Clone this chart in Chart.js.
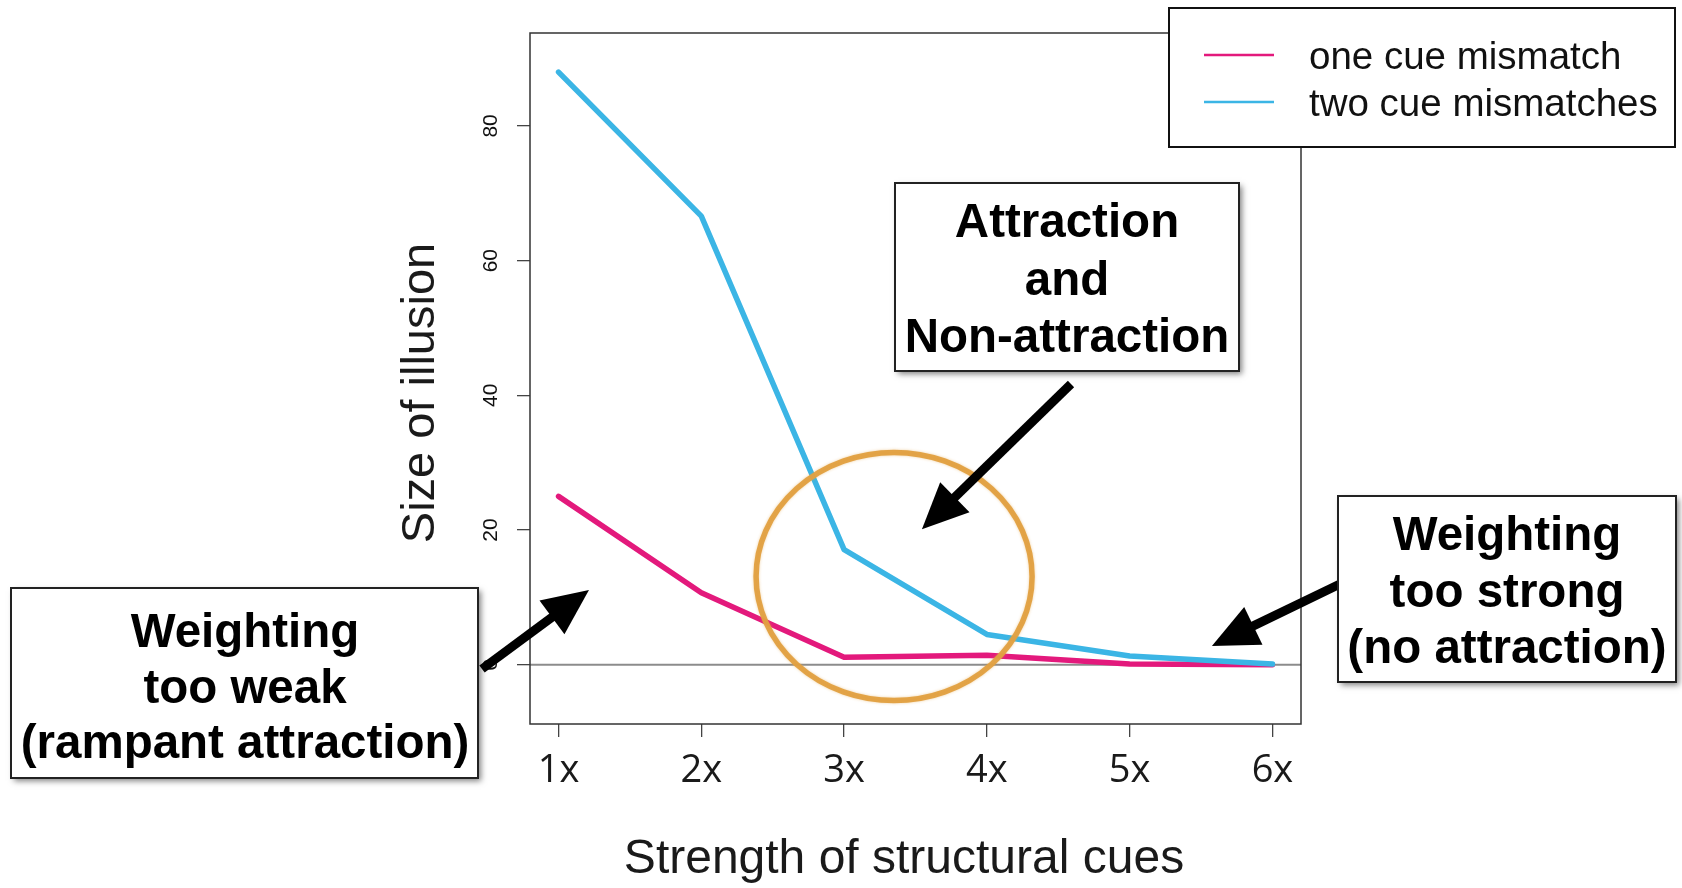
<!DOCTYPE html>
<html><head><meta charset="utf-8">
<script src="https://cdn.jsdelivr.net/npm/chart.js@4.4.1/dist/chart.umd.min.js"></script>
<style>html,body{margin:0;padding:0;background:#fff;}#wrap{width:1682px;height:888px;position:relative;}canvas{display:block;}</style>
</head><body><div id="wrap"><canvas id="c" width="1682" height="888"></canvas></div>
<script>
// ---- data ----
const categories = [1, 2, 3, 4, 5, 6];
const xTickLabels = ['1x', '2x', '3x', '4x', '5x', '6x'];
const yTickValues = [0, 20, 40, 60, 80];
const seriesNames = ['one cue mismatch', 'two cue mismatches'];
const oneCueMismatch = [25, 10.7, 1.1, 1.4, 0.1, 0];
const twoCueMismatches = [88, 66.6, 17.1, 4.5, 1.3, 0.1];
const seriesColors = ['#e3197c', '#3bb5e5'];
const xTitle = 'Strength of structural cues';
const yTitle = 'Size of illusion';
const annotationTexts = [
  ['Attraction', 'and', 'Non-attraction'],
  ['Weighting', 'too weak', '(rampant attraction)'],
  ['Weighting', 'too strong', '(no attraction)']
];

const SANS = "'Liberation Sans', Arial, Helvetica, sans-serif";

function drawArrow(ctx, x1, y1, x2, y2) {
  const ang = Math.atan2(y2 - y1, x2 - x1);
  const headLen = 46, headW = 21;
  const bx = x2 - headLen * Math.cos(ang), by = y2 - headLen * Math.sin(ang);
  ctx.save();
  ctx.strokeStyle = '#000'; ctx.fillStyle = '#000';
  ctx.lineWidth = 9; ctx.lineCap = 'butt';
  ctx.beginPath(); ctx.moveTo(x1, y1); ctx.lineTo(bx + 4 * Math.cos(ang), by + 4 * Math.sin(ang)); ctx.stroke();
  ctx.beginPath();
  ctx.moveTo(x2, y2);
  ctx.lineTo(bx + headW * Math.sin(ang), by - headW * Math.cos(ang));
  ctx.lineTo(bx - headW * Math.sin(ang), by + headW * Math.cos(ang));
  ctx.closePath(); ctx.fill();
  ctx.restore();
}

function drawBox(ctx, x, y, w, h, lines, cx, lineYs) {
  ctx.save();
  ctx.shadowColor = 'rgba(0,0,0,0.5)'; ctx.shadowBlur = 6; ctx.shadowOffsetX = 3; ctx.shadowOffsetY = 3;
  ctx.fillStyle = '#fff'; ctx.fillRect(x, y, w, h);
  ctx.restore();
  ctx.save();
  ctx.strokeStyle = '#222'; ctx.lineWidth = 2; ctx.strokeRect(x, y, w, h);
  ctx.fillStyle = '#000'; ctx.font = 'bold 47.5px ' + SANS;
  ctx.textAlign = 'center'; ctx.textBaseline = 'middle';
  lines.forEach((t, i) => ctx.fillText(t, cx, lineYs[i]));
  ctx.restore();
}

const decor = {
  id: 'decor',
  beforeDatasetsDraw(chart) {
    const ctx = chart.ctx, a = chart.chartArea, ys = chart.scales.y;
    const y0 = ys.getPixelForValue(0);
    ctx.save(); ctx.strokeStyle = '#8c8c8c'; ctx.lineWidth = 2;
    ctx.beginPath(); ctx.moveTo(a.left, y0); ctx.lineTo(a.right, y0); ctx.stroke(); ctx.restore();
  },
  afterDraw(chart) {
    const ctx = chart.ctx, a = chart.chartArea, xs = chart.scales.x, ys = chart.scales.y;
    // frame
    ctx.save(); ctx.strokeStyle = '#333'; ctx.lineWidth = 1.5;
    ctx.strokeRect(a.left, a.top, a.right - a.left, a.bottom - a.top); ctx.restore();
    // y tick labels (rotated as in R)
    ctx.save(); ctx.fillStyle = '#111'; ctx.font = '21px ' + SANS; ctx.textAlign = 'center'; ctx.textBaseline = 'middle';
    yTickValues.forEach(v => {
      ctx.save(); ctx.translate(a.left - 39, ys.getPixelForValue(v)); ctx.rotate(-Math.PI / 2);
      ctx.fillText(String(v), 0, 0); ctx.restore();
    });
    ctx.restore();
    // axis titles
    ctx.save(); ctx.fillStyle = '#1a1a1a'; ctx.font = '48px ' + SANS; ctx.textAlign = 'center'; ctx.textBaseline = 'middle';
    ctx.fillText(xTitle, 904, 860);
    ctx.translate(421, 393); ctx.rotate(-Math.PI / 2); ctx.font = '47px ' + SANS; ctx.fillText(yTitle, 0, 0);
    ctx.restore();
    // ellipse
    ctx.save(); ctx.strokeStyle = 'rgba(226,160,64,0.95)'; ctx.lineWidth = 5.5;
    ctx.shadowColor = 'rgba(226,160,64,0.5)'; ctx.shadowBlur = 3;
    ctx.beginPath(); ctx.ellipse(xs.getPixelForValue(3.35), ys.getPixelForValue(13.1), 138, 124, 0, 0, Math.PI * 2); ctx.stroke();
    ctx.restore();
    // arrows
    drawArrow(ctx, 1071, 384, xs.getPixelForValue(3.545), ys.getPixelForValue(20.1));
    drawArrow(ctx, 482, 669, xs.getPixelForValue(1.213), ys.getPixelForValue(11.1));
    drawArrow(ctx, 1340, 584, xs.getPixelForValue(5.576), ys.getPixelForValue(2.8));
    // annotation boxes
    drawBox(ctx, 895, 183, 344, 188, annotationTexts[0], 1067, [224, 282, 339]);
    drawBox(ctx, 11, 588, 467, 190, annotationTexts[1], 245, [634, 690, 745]);
    drawBox(ctx, 1338, 496, 338, 186, annotationTexts[2], 1507, [537, 594, 650]);
    // legend
    ctx.save(); ctx.fillStyle = '#fff'; ctx.fillRect(1169, 8, 506, 139);
    ctx.strokeStyle = '#111'; ctx.lineWidth = 2; ctx.strokeRect(1169, 8, 506, 139);
    ctx.font = '38.5px ' + SANS; ctx.textAlign = 'left'; ctx.textBaseline = 'middle'; ctx.fillStyle = '#111';
    const ly = [55, 102];
    seriesNames.forEach((n, i) => {
      ctx.strokeStyle = seriesColors[i]; ctx.lineWidth = 2.5;
      ctx.beginPath(); ctx.moveTo(1204, ly[i]); ctx.lineTo(1274, ly[i]); ctx.stroke();
      ctx.fillText(n, 1309, ly[i] + 3);
    });
    ctx.restore();
  }
};

new Chart(document.getElementById('c'), {
  type: 'line',
  data: {
    datasets: [
      { label: seriesNames[0], data: categories.map((c, i) => ({ x: c, y: oneCueMismatch[i] })),
        borderColor: seriesColors[0], borderWidth: 5.5, pointRadius: 0, tension: 0, order: 2,
        borderJoinStyle: 'round', borderCapStyle: 'round', fill: false },
      { label: seriesNames[1], data: categories.map((c, i) => ({ x: c, y: twoCueMismatches[i] })),
        borderColor: seriesColors[1], borderWidth: 5.5, pointRadius: 0, tension: 0, order: 1,
        borderJoinStyle: 'round', borderCapStyle: 'round', fill: false }
    ]
  },
  options: {
    responsive: false, animation: false, devicePixelRatio: 1,
    layout: { padding: { left: 0, right: 381, top: 33, bottom: 0 } },
    plugins: { legend: { display: false }, tooltip: { enabled: false } },
    scales: {
      x: {
        type: 'linear', min: 0.8, max: 6.2,
        afterBuildTicks: s => { s.ticks = categories.map(v => ({ value: v })); },
        afterFit: s => { s.height = 164; },
        grid: { drawOnChartArea: false, drawTicks: true, tickLength: 13, color: '#444', lineWidth: 1.3 },
        border: { display: false },
        ticks: {
          autoSkip: false, maxRotation: 0, minRotation: 0, padding: 11, color: '#1a1a1a',
          font: { family: "'Open Sans', 'DejaVu Sans', sans-serif", size: 38 },
          callback: v => xTickLabels[categories.indexOf(v)]
        }
      },
      y: {
        type: 'linear', min: -8.8, max: 93.8,
        afterBuildTicks: s => { s.ticks = yTickValues.map(v => ({ value: v })); },
        afterFit: s => { s.width = 530; },
        grid: { drawOnChartArea: false, drawTicks: true, tickLength: 13, color: '#444', lineWidth: 1.3 },
        border: { display: false },
        ticks: { display: false }
      }
    }
  },
  plugins: [decor]
});
</script></body></html>
